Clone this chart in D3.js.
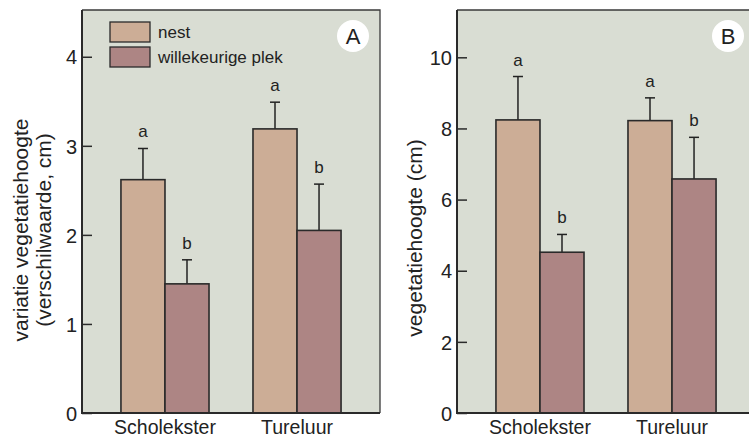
<!DOCTYPE html>
<html>
<head>
<meta charset="utf-8">
<script src="https://cdn.jsdelivr.net/npm/d3@7"></script>
<style>
  html, body { margin: 0; padding: 0; background: #fff; }
  svg { display: block; }
  text { font-family: "Liberation Sans", Arial, sans-serif; fill: #222; }
</style>
</head>
<body>
<svg id="chart" width="749" height="443"></svg>
<script>
// Categories and series
const species = ["Scholekster", "Tureluur"];
const seriesNames = ["nest", "willekeurige plek"];
const seriesColors = ["#ccad96", "#ad8584"];

// Panel A: variation in vegetation height (mean, upper error)
const variationNest = [2.62, 3.19];
const variationNestErr = [2.97, 3.49];
const variationRandom = [1.45, 2.05];
const variationRandomErr = [1.72, 2.57];
const variationLetters = [["a", "b"], ["a", "b"]];
const variationTicks = [0, 1, 2, 3, 4];

// Panel B: vegetation height (cm)
const heightNest = [8.24, 8.22];
const heightNestErr = [9.46, 8.86];
const heightRandom = [4.52, 6.58];
const heightRandomErr = [5.02, 7.75];
const heightLetters = [["a", "b"], ["a", "b"]];
const heightTicks = [0, 2, 4, 6, 8, 10];

const FONT = "Liberation Sans, Arial, sans-serif";
const svg = d3.select("#chart");

function drawPanel(opts) {
  const { x0, x1, y0, y1, yMax, ticks, means, errs, letters, label, yTitle, legend } = opts;
  const g = svg.append("g");

  // plot background
  g.append("rect")
    .attr("x", x0).attr("y", y0)
    .attr("width", x1 - x0).attr("height", y1 - y0)
    .attr("fill", "#d9ddd3");

  const y = d3.scaleLinear().domain([0, yMax]).range([y1, y0]);
  const xGroup = d3.scaleBand().domain(species).range([x0, x1]).paddingInner(0.333).paddingOuter(0.295);
  const xSeries = d3.scaleBand().domain(seriesNames).range([0, xGroup.bandwidth()]);

  // bars, error bars and letters
  species.forEach((sp, i) => {
    seriesNames.forEach((s, j) => {
      const bx = xGroup(sp) + xSeries(s);
      const bw = xSeries.bandwidth();
      const cx = bx + bw / 2;
      g.append("line")
        .attr("x1", cx).attr("x2", cx)
        .attr("y1", y(means[j][i])).attr("y2", y(errs[j][i]))
        .attr("stroke", "#222").attr("stroke-width", 1.5);
      g.append("line")
        .attr("x1", cx - 5).attr("x2", cx + 5)
        .attr("y1", y(errs[j][i])).attr("y2", y(errs[j][i]))
        .attr("stroke", "#222").attr("stroke-width", 1.5);
      g.append("rect")
        .attr("x", bx).attr("y", y(means[j][i]))
        .attr("width", bw).attr("height", y(0) - y(means[j][i]))
        .attr("fill", seriesColors[j])
        .attr("stroke", "#2a2a2a").attr("stroke-width", 1.6);
      g.append("text")
        .attr("x", cx).attr("y", y(errs[j][i]) - 11)
        .attr("text-anchor", "middle")
        .attr("font-size", 17)
        .text(letters[i][j]);
    });
  });

  // frame (top and right edges)
  g.append("path")
    .attr("d", `M${x0},${y0}H${x1}V${y1}`)
    .attr("fill", "none").attr("stroke", "#3a3a3a").attr("stroke-width", 1.3);

  // y axis with inward ticks
  const yAxis = d3.axisRight(y).tickValues(ticks).tickSize(10).tickPadding(0).tickFormat(d3.format("d"));
  const ay = g.append("g").attr("transform", `translate(${x0},0)`).call(yAxis);
  ay.select(".domain").remove();
  ay.selectAll(".tick line").attr("stroke", "#2a2a2a").attr("stroke-width", 1.5);
  ay.selectAll(".tick text")
    .attr("x", -5).attr("text-anchor", "end").attr("dy", "0.36em")
    .attr("font-size", 20).attr("fill", "#222")
    .attr("font-family", FONT);
  g.append("line").attr("x1", x0).attr("x2", x0).attr("y1", y0).attr("y2", y1)
    .attr("stroke", "#2a2a2a").attr("stroke-width", 2);

  // x axis
  const xAxis = d3.axisBottom(xGroup).tickSize(0).tickPadding(7);
  const ax = g.append("g").attr("transform", `translate(0,${y1})`).call(xAxis);
  ax.select(".domain").remove();
  ax.selectAll(".tick text")
    .attr("font-size", 19.5).attr("fill", "#222")
    .attr("font-family", FONT);
  g.append("line").attr("x1", x0 - 1).attr("x2", x1).attr("y1", y1).attr("y2", y1)
    .attr("stroke", "#2a2a2a").attr("stroke-width", 2);

  // y axis title
  yTitle.lines.forEach((t, k) => {
    g.append("text")
      .attr("transform", `translate(${yTitle.xs[k]},${yTitle.cy}) rotate(-90)`)
      .attr("text-anchor", "middle").attr("dy", "0.35em")
      .attr("font-size", 21)
      .text(t);
  });

  // panel badge
  g.append("circle").attr("cx", label.cx).attr("cy", label.cy).attr("r", 16).attr("fill", "#fff");
  g.append("text").attr("x", label.cx).attr("y", label.cy).attr("dy", "0.36em")
    .attr("text-anchor", "middle").attr("font-size", 22).text(label.text);

  // legend
  if (legend) {
    seriesNames.forEach((s, j) => {
      const ly = legend.y + j * 25;
      g.append("rect").attr("x", legend.x).attr("y", ly)
        .attr("width", 40).attr("height", 20)
        .attr("fill", seriesColors[j]).attr("stroke", "#2a2a2a").attr("stroke-width", 1.3);
      g.append("text").attr("x", legend.x + 48).attr("y", ly + 10).attr("dy", "0.35em")
        .attr("font-size", 17).text(s);
    });
  }
}

drawPanel({
  x0: 82, x1: 380, y0: 10, y1: 413, yMax: 4.525,
  ticks: variationTicks,
  means: [variationNest, variationRandom],
  errs: [variationNestErr, variationRandomErr],
  letters: variationLetters,
  label: { text: "A", cx: 353, cy: 36 },
  yTitle: { lines: ["variatie vegetatiehoogte", "(verschilwaarde, cm)"], xs: [21, 44], cy: 230 },
  legend: { x: 110, y: 22 }
});

drawPanel({
  x0: 457, x1: 755, y0: 10, y1: 413, yMax: 11.33,
  ticks: heightTicks,
  means: [heightNest, heightRandom],
  errs: [heightNestErr, heightRandomErr],
  letters: heightLetters,
  label: { text: "B", cx: 728, cy: 36 },
  yTitle: { lines: ["vegetatiehoogte (cm)"], xs: [415], cy: 238 },
  legend: null
});
</script>
</body>
</html>
